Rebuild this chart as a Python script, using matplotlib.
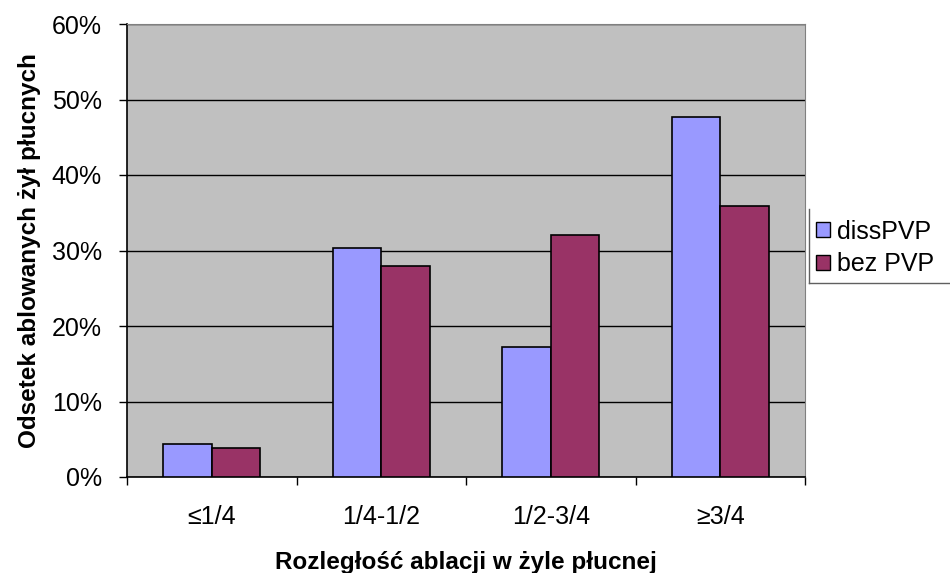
import matplotlib

matplotlib.use("Agg")
import matplotlib.pyplot as plt
import numpy as np
from matplotlib.lines import Line2D
from matplotlib.ticker import PercentFormatter

plt.rcParams["font.family"] = ["Liberation Sans", "DejaVu Sans"]

categories = ["≤1/4", "1/4-1/2", "1/2-3/4", "≥3/4"]
diss_pvp = [4.4, 30.3, 17.2, 47.7]
bez_pvp = [3.8, 27.9, 32.0, 35.9]
series_names = ["dissPVP", "bez PVP"]
colors = ["#9999FF", "#993366"]

fig = plt.figure(figsize=(9.5, 5.73), dpi=100)
ax = fig.add_axes([127 / 950, 1 - 477 / 573, 678 / 950, 453 / 573])
ax.set_facecolor("#C0C0C0")

x = np.arange(len(categories))
w = 1 / 3.5
ax.bar(x - w / 2, diss_pvp, w, color=colors[0], edgecolor="black", lw=1.2,
       label=series_names[0], zorder=3)
ax.bar(x + w / 2, bez_pvp, w, color=colors[1], edgecolor="black", lw=1.2,
       label=series_names[1], zorder=3)

ax.set_xlim(-0.5, len(categories) - 0.5)
ax.set_ylim(0, 60)
ax.set_yticks(range(0, 61, 10))
ax.yaxis.set_major_formatter(PercentFormatter(decimals=0))
ax.grid(axis="y", color="black", lw=1, zorder=1)

# category labels in the middle, tick marks on the boundaries
ax.set_xticks(x)
ax.set_xticklabels(categories)
ax.set_xticks(np.arange(-0.5, len(categories)), minor=True)
ax.tick_params(axis="x", which="major", length=0, pad=20, labelsize=18)
ax.tick_params(axis="x", which="minor", length=6, width=1, color="black")
ax.tick_params(axis="y", length=6, width=1, labelsize=18, pad=12)

for side in ("top", "right"):
    ax.spines[side].set_color("#808080")
for side in ("left", "bottom"):
    ax.spines[side].set_color("black")
    ax.spines[side].set_linewidth(1.2)

ax.set_xlabel("Rozległość ablacji w żyle płucnej", fontsize=17.5,
              fontweight="bold", labelpad=16)
ax.set_ylabel("Odsetek ablowanych żył płucnych", fontsize=17.5,
              fontweight="bold", labelpad=8)

# legend frame: only left and bottom edges show, the rest runs off the figure
fig.add_artist(Line2D([809 / 950, 809 / 950], [1 - 283 / 573, 1 - 209 / 573],
                      transform=fig.transFigure, color="#606060", lw=1))
fig.add_artist(Line2D([809 / 950, 1], [1 - 283 / 573, 1 - 283 / 573],
                      transform=fig.transFigure, color="#606060", lw=1))
leg = ax.legend(loc="center left", bbox_to_anchor=(816 / 950, 1 - 248 / 573),
                bbox_transform=fig.transFigure, frameon=False, fontsize=18,
                handlelength=0.55, handleheight=0.55, handletextpad=0.3,
                labelspacing=0.35, borderpad=0, borderaxespad=0)
for h in leg.legend_handles:
    h.set_edgecolor("black")
    h.set_linewidth(1)

fig.savefig("out.png", dpi=100)
